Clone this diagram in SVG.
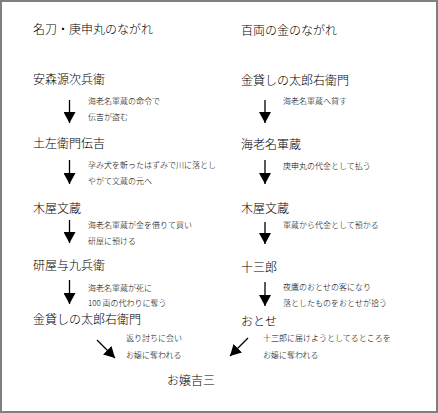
<svg xmlns="http://www.w3.org/2000/svg" width="438" height="413" viewBox="0 0 438 413">
<style>
text{font-family:"Noto Sans CJK JP","Noto Sans CJK SC",sans-serif;dominant-baseline:central;fill:#000}
.n{font-size:12px;font-weight:300}
.l{font-size:8px;font-weight:300}
.c line{stroke:#000;stroke-width:1.3;fill:none}
</style>
<defs>
<marker id="ah" markerUnits="userSpaceOnUse" viewBox="0 0 11 12" refX="11" refY="6" markerWidth="11" markerHeight="12" orient="auto">
<path d="M0,0 L11,6 L0,12 z" fill="#000"/>
</marker>
</defs>
<rect x="0" y="0" width="438" height="413" fill="#fff"/>
<rect x="1" y="1" width="436" height="411" fill="none" stroke="#808080" stroke-width="2"/>
<g id="titles">
<text class="n" x="33" y="28">名刀・庚申丸のながれ</text>
<text class="n" x="241" y="29">百両の金のながれ</text>
</g>
<g id="node-yasumori"><text class="n" x="33" y="78">安森源次兵衛</text></g>
<g id="node-denkichi"><text class="n" x="33" y="142">土左衛門伝吉</text></g>
<g id="node-bunzo-l"><text class="n" x="33" y="207">木屋文蔵</text></g>
<g id="node-yokubei"><text class="n" x="33" y="264">研屋与九兵衛</text></g>
<g id="node-taroemon-l"><text class="n" x="33" y="318">金貸しの太郎右衛門</text></g>
<g id="node-taroemon-r"><text class="n" x="241" y="79">金貸しの太郎右衛門</text></g>
<g id="node-gunzo"><text class="n" x="241" y="143">海老名軍蔵</text></g>
<g id="node-bunzo-r"><text class="n" x="241" y="207">木屋文蔵</text></g>
<g id="node-jusaburo"><text class="n" x="241" y="266">十三郎</text></g>
<g id="node-otose"><text class="n" x="241" y="320">おとせ</text></g>
<g id="node-ojo"><text class="n" x="167" y="379">お嬢吉三</text></g>
<g class="c" id="connectors">
<line x1="69.5" y1="100" x2="69.5" y2="123" marker-end="url(#ah)"/>
<line x1="69.5" y1="160" x2="69.5" y2="184" marker-end="url(#ah)"/>
<line x1="69.5" y1="220" x2="69.5" y2="243" marker-end="url(#ah)"/>
<line x1="69.5" y1="280" x2="69.5" y2="304" marker-end="url(#ah)"/>
<line x1="265" y1="100" x2="265" y2="123" marker-end="url(#ah)"/>
<line x1="265" y1="160" x2="265" y2="184" marker-end="url(#ah)"/>
<line x1="265" y1="222" x2="265" y2="244" marker-end="url(#ah)"/>
<line x1="265" y1="282" x2="265" y2="306" marker-end="url(#ah)"/>
<line x1="97" y1="340" x2="115" y2="358" marker-end="url(#ah)"/>
<line x1="248" y1="338" x2="230" y2="356" marker-end="url(#ah)"/>
</g>
<g id="labels">
<text class="l" x="88" y="100">海老名軍蔵の命令で</text>
<text class="l" x="88" y="116">伝吉が盗む</text>
<text class="l" x="88" y="164">孕み犬を斬ったはずみで川に落とし</text>
<text class="l" x="88" y="180">やがて文蔵の元へ</text>
<text class="l" x="88" y="224">海老名軍蔵が金を借りて買い</text>
<text class="l" x="88" y="240">研屋に預ける</text>
<text class="l" x="88" y="287">海老名軍蔵が死に</text>
<text class="l" x="88" y="302">100 両の代わりに奪う</text>
<text class="l" x="126" y="337">返り討ちに会い</text>
<text class="l" x="126" y="354">お嬢に奪われる</text>
<text class="l" x="283" y="100">海老名軍蔵へ貸す</text>
<text class="l" x="283" y="165">庚申丸の代金として払う</text>
<text class="l" x="283" y="224">軍蔵から代金として預かる</text>
<text class="l" x="283" y="286">夜鷹のおとせの客になり</text>
<text class="l" x="283" y="302">落としたものをおとせが拾う</text>
<text class="l" x="263" y="337">十三郎に届けようとしてるところを</text>
<text class="l" x="263" y="354">お嬢に奪われる</text>
</g>
</svg>
